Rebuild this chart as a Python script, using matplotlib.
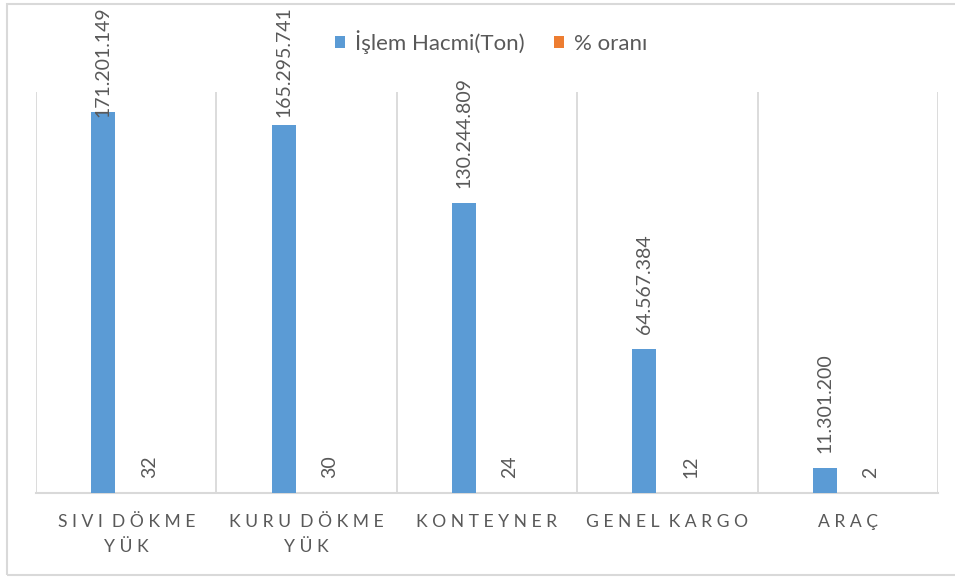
import matplotlib
matplotlib.use("Agg")
import matplotlib.pyplot as plt
import numpy as np
from matplotlib.patches import Rectangle

# data
categories = ["SIVI DÖKME\nYÜK", "KURU DÖKME\nYÜK", "KONTEYNER", "GENEL KARGO", "ARAÇ"]
hacim = [171201149, 165295741, 130244809, 64567384, 11301200]
oran = [32, 30, 24, 12, 2]
series_names = ["İşlem Hacmi(Ton)", "% oranı"]

BLUE = "#5B9BD5"
ORANGE = "#ED7D31"
GRID = "#D9D9D9"
TXT = "#595959"

plt.rcParams["font.family"] = ["Lato", "DejaVu Sans"]


def spaced(label):
    # imitate the letter spacing of the original
    lines = []
    for line in label.split("\n"):
        lines.append("  ".join(" ".join(w) for w in line.split(" ")))
    return "\n".join(lines)


def tr_fmt(v):
    return f"{v:,}".replace(",", ".")


W, H = 955, 578
fig = plt.figure(figsize=(W / 100, H / 100), dpi=100)
ax = fig.add_axes([36 / W, (H - 493) / H, (938 - 36) / W, (493 - 92) / H])

x = np.arange(len(categories))
bw = 0.133
off = 0.128
b1 = ax.bar(x - off, hacim, bw, color=BLUE, label=series_names[0], zorder=3)
b2 = ax.bar(x + off, oran, bw, color=ORANGE, label=series_names[1], zorder=3)

ax.set_xlim(-0.5, len(categories) - 0.5)
ax.set_ylim(0, 180000000)

labels = []
for bars, vals in [(b1, hacim), (b2, oran)]:
    for rect, v in zip(bars, vals):
        t = ax.annotate(tr_fmt(v), (rect.get_x() + rect.get_width() / 2, rect.get_height()),
                        xytext=(0, 11), textcoords="offset points", rotation=90,
                        ha="center", va="bottom", fontsize=14, color=TXT, zorder=4)
        labels.append(t)

ax.set_yticks([])
ax.set_xticks(x)
ax.set_xticklabels([spaced(c) for c in categories], fontsize=12.6, color=TXT,
                   linespacing=1.7)
ax.tick_params(axis="x", length=0, pad=15)

for b in np.arange(-0.5, len(categories), 1.0):
    ax.axvline(b, color=GRID, lw=1.3, zorder=1)

for s in ["top", "right", "left"]:
    ax.spines[s].set_visible(False)
ax.spines["bottom"].set_color(GRID)
ax.spines["bottom"].set_linewidth(1.5)

# push labels that would leave the chart back down (as Excel does)
fig.canvas.draw()
r = fig.canvas.get_renderer()
for t in labels:
    bb = t.get_window_extent(r)
    top_lim = H - 6
    if bb.y1 > top_lim:
        shift_pt = (bb.y1 - top_lim) * 72 / fig.dpi
        ox, oy = t.xyann
        t.xyann = (ox, oy - shift_pt)

leg = fig.legend(handles=[b1, b2], labels=series_names, loc="center",
                 bbox_to_anchor=(491 / W, (H - 42) / H), ncol=2, frameon=False,
                 fontsize=16, handlelength=0.45, handleheight=0.45,
                 handletextpad=0.45, columnspacing=1.3)
for t in leg.get_texts():
    t.set_color(TXT)

fig.patches.append(Rectangle((7 / W, 3 / H), 1.2, (574 - 3) / H,
                             transform=fig.transFigure, fill=False,
                             edgecolor=GRID, lw=1.5))

fig.savefig("out.png", dpi=100)
